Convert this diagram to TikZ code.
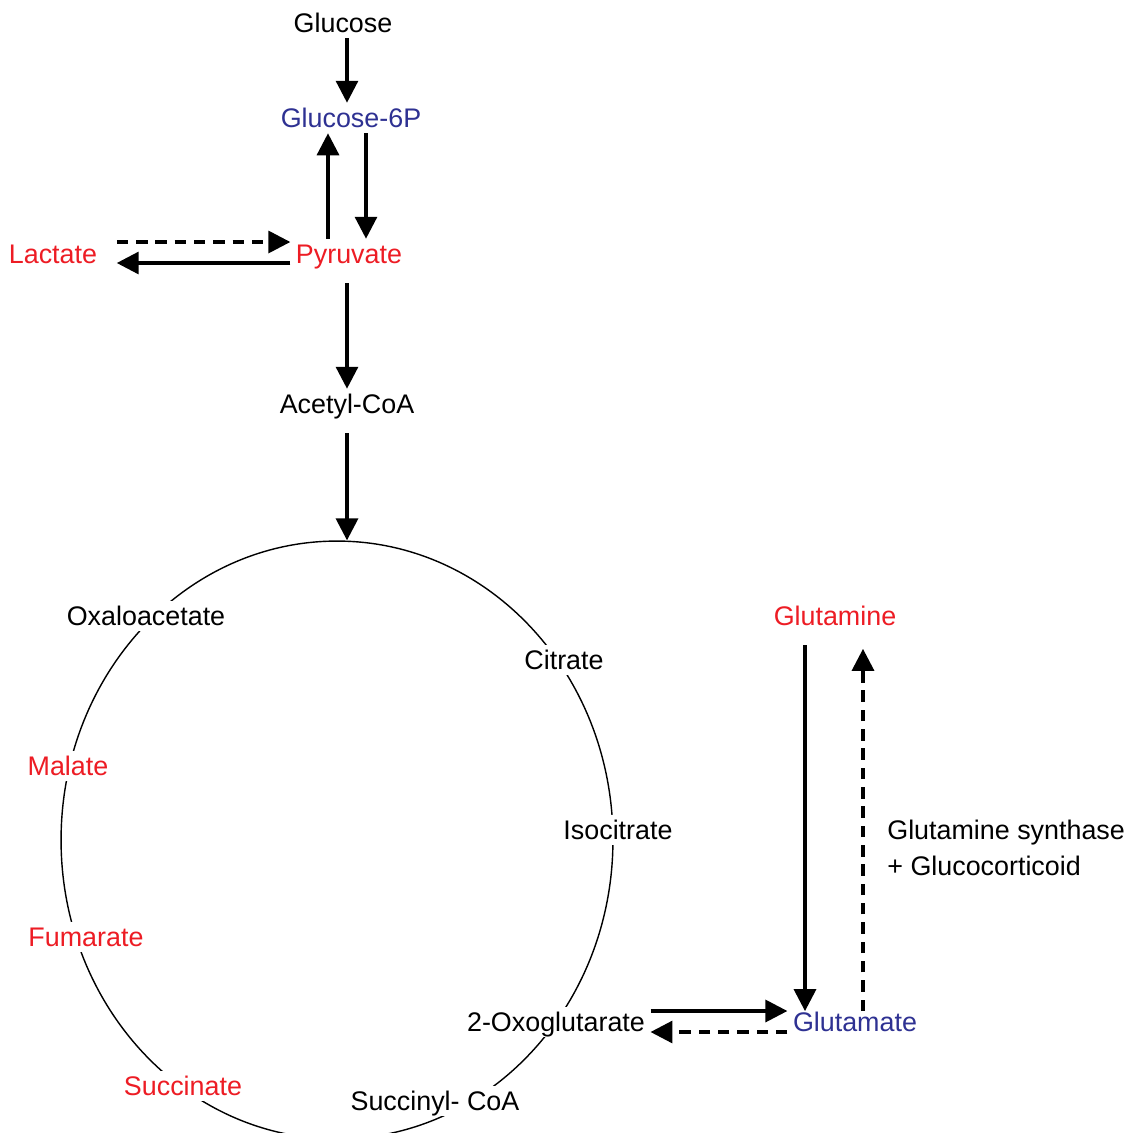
\documentclass[tikz,border=0pt]{standalone}
\usepackage{fontspec}
\setmainfont{Liberation Sans}
\usetikzlibrary{arrows.meta,shapes.geometric}
\definecolor{metred}{RGB}{237,28,36}
\definecolor{metblue}{RGB}{46,49,146}

\begin{document}
\begin{tikzpicture}[x=0.02cm,y=-0.02cm,
    every node/.style={font=\fontsize{15.3}{20.5}\selectfont},
    met/.style={inner sep=3pt, text height=11pt, text depth=0pt},
    ring/.style={met, fill=white},
    arr/.style={-{Triangle[length=12.5pt,width=12.5pt]}, line width=1.9pt},
    dasharr/.style={arr, dash pattern=on 6.5pt off 4.5pt}]
\useasboundingbox (0,0) rectangle (1131,1133);
            \node[met] (glc) at (343,23) {Glucose};
            \node[met, text=metblue] (g6p) at (351,118) {Glucose-6P};
            \node[met, text=metred] (pyr) at (349,254) {Pyruvate};
            \node[met, text=metred] (lac) at (53,254) {Lactate};
            \node[met] (acc) at (347,404) {Acetyl-CoA};
            % the cycle
            \node[draw, ellipse, line width=0.8pt, inner sep=0pt,
                minimum width=11.04cm, minimum height=11.96cm] (tca) at (337,840) {};
            \node[ring] (oaa) at (146,616) {Oxaloacetate};
            \node[ring] (cit) at (564,660) {Citrate};
            \node[ring] (icit) at (618,830) {Isocitrate};
            \node[ring] (akg) at (556,1022) {2-Oxoglutarate};
            \node[ring] (sca) at (435,1101) {Succinyl- CoA};
            \node[ring, text=metred] (suc) at (183,1086) {Succinate};
            \node[ring, text=metred] (fum) at (86,937) {Fumarate};
            \node[ring, text=metred] (mal) at (68,766) {Malate};
            % glutamine side
            \node[met, text=metred] (gln) at (835,616) {Glutamine};
            \node[met, text=metblue] (glu) at (855,1022) {Glutamate};
            \node[align=left, anchor=west, inner sep=0pt] (gs) at (887,848) {Glutamine synthase\\+ Glucocorticoid};
            \draw[arr] (glc.south -| acc) -- (g6p.north -| acc);
            \draw[arr] (g6p.south -| 366,0) -- (pyr.north -| 366,0);
            \draw[arr] (pyr.north -| 328,0) -- (g6p.south -| 328,0);
            \draw[dasharr, shorten <=8pt] (lac.east |- 0,242) -- (pyr.west |- 0,242);
            \draw[arr, shorten >=8pt] (pyr.west |- 0,263) -- (lac.east |- 0,263);
            \draw[arr, shorten <=8pt] (pyr.south -| acc) -- (acc.north);
            \draw[arr, shorten <=8pt] (acc.south) -- (acc.south |- tca.north);
            \draw[arr] (akg.east |- 0,1011) -- (glu.west |- 0,1011);
            \draw[dasharr] (glu.west |- 0,1032) -- (akg.east |- 0,1032);
            \draw[arr, shorten <=8pt, shorten >=-2.5pt] (gln.south -| 805,0) -- (glu.north -| 805,0);
            \draw[dasharr, shorten <=-2.5pt, shorten >=10pt] (glu.north -| 863,0) -- (gln.south -| 863,0);
\end{tikzpicture}
\end{document}
